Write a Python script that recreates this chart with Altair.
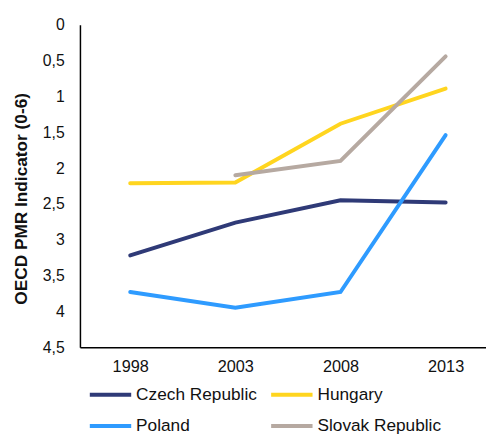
import altair as alt
import pandas as pd

years = [1998, 2003, 2008, 2013]
countries = ["Czech Republic", "Hungary", "Poland", "Slovak Republic"]
czech = [3.22, 2.76, 2.45, 2.48]
hungary = [2.21, 2.20, 1.38, 0.89]
poland = [3.73, 3.95, 3.73, 1.54]
slovak = [None, 2.10, 1.90, 0.44]
colors = ["#2F3A77", "#FFD51F", "#2E9BFF", "#B6A9A1"]
y_ticks = [0, 0.5, 1, 1.5, 2, 2.5, 3, 3.5, 4, 4.5]

rows = []
for name, vals in zip(countries, [czech, hungary, poland, slovak]):
    for yr, v in zip(years, vals):
        if v is not None:
            rows.append({"year": yr, "country": name, "value": v})
df = pd.DataFrame(rows)

FONT = "Liberation Sans"

chart = alt.Chart(df).mark_line(strokeWidth=4, strokeCap="round").encode(
    x=alt.X(
        "year:Q",
        scale=alt.Scale(domain=[1995.61, 2014.92], nice=False, zero=False),
        axis=alt.Axis(
            values=years, format="d", title=None, ticks=False, grid=False,
            domainColor="black", domainWidth=1.5, labelFontSize=16.5,
            labelPadding=12, labelColor="#111111", labelFont=FONT,
        ),
    ),
    y=alt.Y(
        "value:Q",
        scale=alt.Scale(domain=[0, 4.5], reverse=True, nice=False, zero=False),
        axis=alt.Axis(
            values=y_ticks,
            labelExpr="replace(format(datum.value, '~g'), '.', ',')",
            title="OECD PMR  Indicator (0-6)", titleFontSize=17.5, titleFontWeight="bold",
            titleFont=FONT, titleColor="#111111", titlePadding=12, titleY=176,
            ticks=False, grid=False, domainColor="black", domainWidth=1.5,
            labelFontSize=16, labelPadding=16, labelColor="#111111", labelFont=FONT,
        ),
    ),
    color=alt.Color(
        "country:N",
        scale=alt.Scale(domain=countries, range=colors),
        legend=alt.Legend(
            title=None, orient="none", legendX=8, legendY=352, columns=2,
            direction="horizontal",
            symbolType="stroke", symbolSize=1764, symbolStrokeWidth=4,
            labelFontSize=17.5, labelFont=FONT, labelColor="#111111",
            rowPadding=-5, columnPadding=6, labelOffset=3,
        ),
    ),
).properties(
    width=412, height=327,
    autosize=alt.AutoSizeParams(type="none"),
    padding={"left": 73, "top": 14, "right": 0, "bottom": 86},
).configure_view(stroke=None)

chart.save("out.html", embed_options={"renderer": "svg", "actions": False})
